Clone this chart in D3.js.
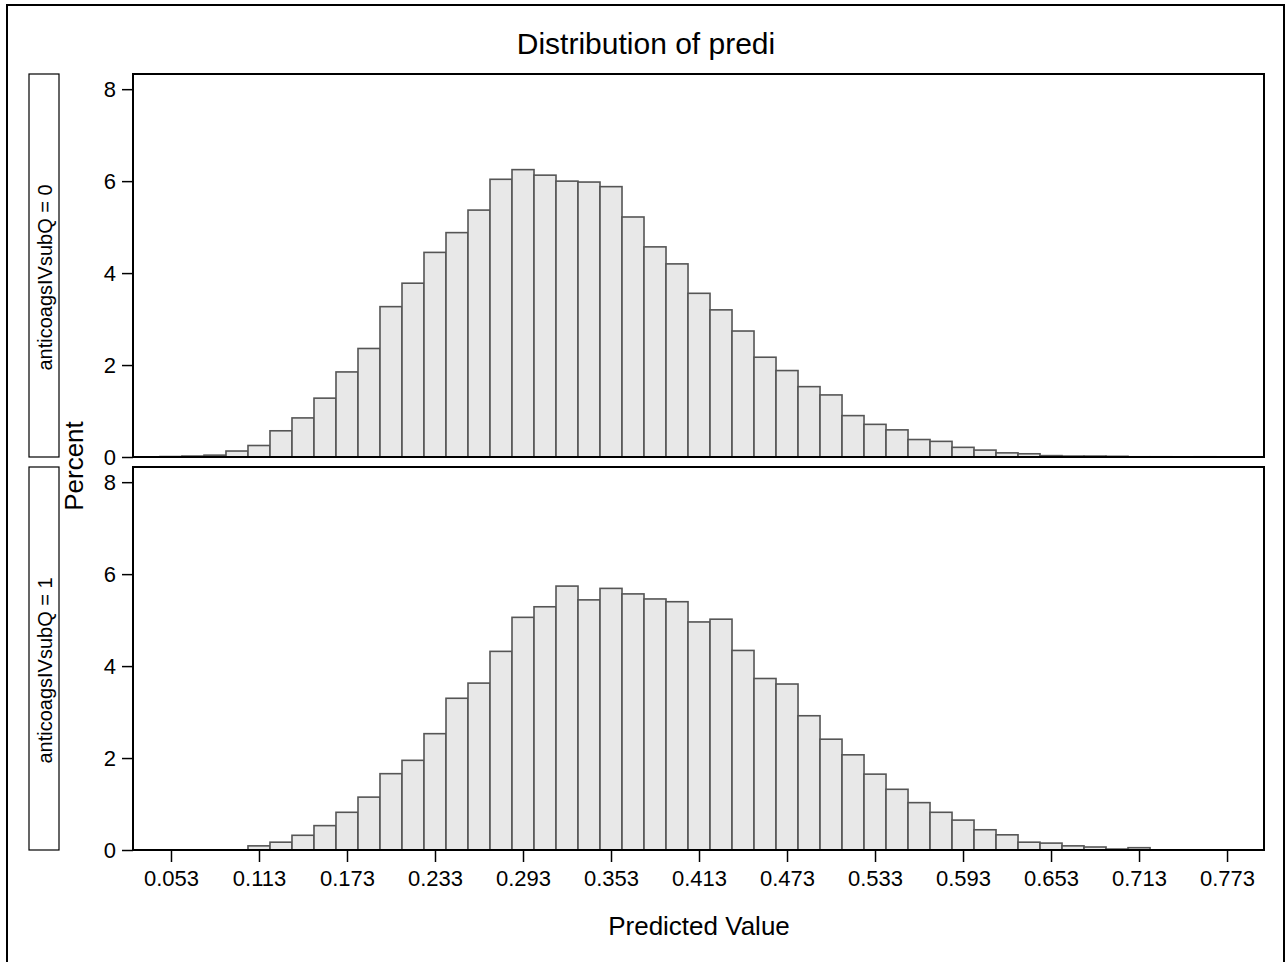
<!DOCTYPE html>
<html lang="en">
<head>
  <meta charset="UTF-8">
  <title>Distribution of predi</title>
  <script src="https://d3js.org/d3.v7.min.js"></script>
  <style>
    body {
      margin: 0;
      background: white;
      font-family: "Liberation Sans", Arial, sans-serif;
    }
    svg text { fill: black; }
    .bar {
      fill: #e8e8e8;
      stroke: #555;
      stroke-width: 1.6px;
    }
  </style>
</head>
<body>
  <div id="chart"></div>
  <script>
    // Bin midpoints (bin width 0.015)
    const binMids = [0.053, 0.068, 0.083, 0.098, 0.113, 0.128, 0.143, 0.158, 0.173, 0.188,
                     0.203, 0.218, 0.233, 0.248, 0.263, 0.278, 0.293, 0.308, 0.323, 0.338,
                     0.353, 0.368, 0.383, 0.398, 0.413, 0.428, 0.443, 0.458, 0.473, 0.488,
                     0.503, 0.518, 0.533, 0.548, 0.563, 0.578, 0.593, 0.608, 0.623, 0.638,
                     0.653, 0.668, 0.683, 0.698, 0.713, 0.728, 0.743, 0.758, 0.773];
    const binWidth = 0.015;

    // Percent per bin, anticoagsIVsubQ = 0
    const pct0 = [0.01, 0.02, 0.04, 0.13, 0.25, 0.57, 0.85, 1.28, 1.85, 2.36,
                  3.27, 3.78, 4.45, 4.88, 5.37, 6.04, 6.25, 6.13, 6.00, 5.98,
                  5.88, 5.22, 4.57, 4.20, 3.56, 3.20, 2.74, 2.17, 1.88, 1.53,
                  1.35, 0.90, 0.71, 0.59, 0.38, 0.34, 0.21, 0.15, 0.09, 0.07,
                  0.03, 0.02, 0.02, 0.015, 0.005, 0.005, 0, 0.005, 0];

    // Percent per bin, anticoagsIVsubQ = 1
    const pct1 = [0, 0, 0, 0, 0.09, 0.17, 0.32, 0.53, 0.82, 1.15,
                  1.66, 1.95, 2.53, 3.30, 3.63, 4.32, 5.06, 5.29, 5.74, 5.44,
                  5.69, 5.57, 5.46, 5.40, 4.96, 5.02, 4.34, 3.73, 3.61, 2.92,
                  2.41, 2.07, 1.65, 1.32, 1.03, 0.82, 0.65, 0.44, 0.33, 0.17,
                  0.15, 0.09, 0.065, 0.02, 0.05, 0, 0, 0, 0];

    const xTicks = [0.053, 0.113, 0.173, 0.233, 0.293, 0.353, 0.413, 0.473, 0.533, 0.593, 0.653, 0.713, 0.773];
    const yTicks = [0, 2, 4, 6, 8];
    const panelLabels = ["anticoagsIVsubQ = 0", "anticoagsIVsubQ = 1"];

    const width = 1286, height = 962;
    const plotLeft = 133, plotRight = 1264;
    const panels = [{ top: 74, bottom: 457 }, { top: 467, bottom: 850 }];

    const svg = d3.select("#chart").append("svg")
      .attr("width", width)
      .attr("height", height);

    // outer border
    svg.append("rect")
      .attr("x", 7).attr("y", 5)
      .attr("width", 1277).attr("height", 958)
      .attr("fill", "none").attr("stroke", "black").attr("stroke-width", 2);

    svg.append("text")
      .attr("x", 646)
      .attr("y", 54)
      .attr("text-anchor", "middle")
      .style("font-size", "30px")
      .text("Distribution of predi");

    const x = d3.scaleLinear().domain([0.0271, 0.7982]).range([plotLeft, plotRight]);

    [pct0, pct1].forEach((vals, i) => {
      const p = panels[i];
      const y = d3.scaleLinear().domain([0, 8.33]).range([p.bottom, p.top]);
      const g = svg.append("g");

      g.selectAll("rect.bar")
        .data(binMids.map((m, j) => ({ m, v: vals[j] })))
        .join("rect")
          .attr("class", "bar")
          .attr("x", d => x(d.m - binWidth / 2))
          .attr("width", d => x(d.m + binWidth / 2) - x(d.m - binWidth / 2))
          .attr("y", d => y(d.v))
          .attr("height", d => y(0) - y(d.v));

      // frame
      g.append("rect")
        .attr("x", plotLeft).attr("y", p.top)
        .attr("width", plotRight - plotLeft).attr("height", p.bottom - p.top)
        .attr("fill", "none").attr("stroke", "black").attr("stroke-width", 2);

      const yAxis = g.append("g")
        .attr("transform", `translate(${plotLeft},0)`)
        .call(d3.axisLeft(y).tickValues(yTicks).tickSize(11).tickPadding(6));
      yAxis.select(".domain").remove();
      yAxis.selectAll("line").attr("stroke-width", 1.5);
      yAxis.selectAll("text").style("font-size", "22px").attr("font-family", "Liberation Sans, Arial, sans-serif");

      // strip label box
      g.append("rect")
        .attr("x", 29).attr("y", p.top)
        .attr("width", 30).attr("height", p.bottom - p.top)
        .attr("fill", "white").attr("stroke", "black").attr("stroke-width", 1.2);
      g.append("text")
        .attr("transform", `translate(45,${(p.top + p.bottom) / 2 + 12}) rotate(-90)`)
        .attr("text-anchor", "middle")
        .attr("dominant-baseline", "central")
        .style("font-size", "20px")
        .text(panelLabels[i]);

      if (i === 1) {
        const xAxis = g.append("g")
          .attr("transform", `translate(0,${p.bottom})`)
          .call(d3.axisBottom(x).tickValues(xTicks).tickFormat(d3.format(".3f")).tickSize(12).tickPadding(8));
        xAxis.select(".domain").remove();
        xAxis.selectAll("line").attr("stroke-width", 1.5);
        xAxis.selectAll("text").style("font-size", "22px").attr("font-family", "Liberation Sans, Arial, sans-serif");
      }
    });

    svg.append("text")
      .attr("x", 699)
      .attr("y", 935)
      .attr("text-anchor", "middle")
      .style("font-size", "26px")
      .text("Predicted Value");

    svg.append("text")
      .attr("transform", `translate(83,${(panels[0].top + panels[1].bottom) / 2 + 4}) rotate(-90)`)
      .attr("text-anchor", "middle")
      .style("font-size", "26px")
      .text("Percent");
  </script>
</body>
</html>
